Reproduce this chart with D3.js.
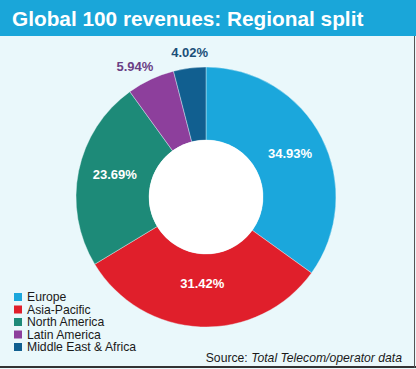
<!DOCTYPE html>
<html><head><meta charset="utf-8">
<script src="https://cdn.jsdelivr.net/npm/d3@7"></script>
<style>html,body{margin:0;padding:0;background:#fff}svg{display:block}</style>
</head><body>
<svg id="c" width="416" height="369"></svg>
<script>
const categories = ["Europe","Asia-Pacific","North America","Latin America","Middle East & Africa"];
const values = [34.93, 31.42, 23.69, 5.94, 4.02];
const labels = ["34.93%","31.42%","23.69%","5.94%","4.02%"];
const colors = ["#1ba7dc","#e01f2b","#1d8a78","#8d3f9c","#115f90"];
const labelColors = ["#ffffff","#ffffff","#ffffff","#6a3f85","#1a4f78"];
const title = "Global 100 revenues: Regional split";

const svg = d3.select("#c");
const W = 416, H = 369;
svg.append("rect").attr("width",W).attr("height",H).attr("fill","#eaf8fb");
svg.append("rect").attr("width",W).attr("height",36).attr("fill","#1aa6d9");
svg.append("text").attr("x",12).attr("y",26).attr("fill","#fff")
  .attr("font-family","Liberation Sans, Arial, sans-serif").attr("font-weight","bold")
  .attr("font-size",20.8).text(title);
// border
svg.append("line").attr("x1",0).attr("x2",W).attr("y1",367).attr("y2",367).attr("stroke","#333").attr("stroke-width",2);
svg.append("line").attr("x1",414.5).attr("x2",414.5).attr("y1",36).attr("y2",368).attr("stroke","#555").attr("stroke-width",1);

const cx = 206, cy = 197, R = 130, r0 = 57;
const pie = d3.pie().sort(null).value(d=>d)(values);
const arc = d3.arc().innerRadius(r0).outerRadius(R);
const g = svg.append("g").attr("transform",`translate(${cx},${cy})`);
g.selectAll("path").data(pie).join("path").attr("d",arc)
  .attr("fill",(d,i)=>colors[i]).attr("stroke","#eaf8fb").attr("stroke-width",0.4);
g.append("circle").attr("r",r0).attr("fill","#fff");

// label placement: inside for big slices, outside for small ones
const inArc = d3.arc().innerRadius(91).outerRadius(91);
const outArc = d3.arc().innerRadius(R+16).outerRadius(R+16);
const nudge = [[3,-2],[0,-5],[-2,-5],[-9,1],[2,0]];
g.selectAll("text.lab").data(pie).join("text").attr("class","lab")
  .attr("transform",(d,i)=>{
    let p = i<3 ? inArc.centroid(d) : outArc.centroid(d);
    p = [p[0]+nudge[i][0], p[1]+nudge[i][1]];
    return `translate(${p[0]},${p[1]})`;})
  .attr("text-anchor","middle").attr("dy","0.36em")
  .attr("font-family","Liberation Sans, Arial, sans-serif").attr("font-weight","bold")
  .attr("font-size",13).attr("fill",(d,i)=>labelColors[i])
  .text((d,i)=>labels[i]);

// legend
const lg = svg.append("g").attr("font-family","Liberation Sans, Arial, sans-serif").attr("font-size",12.2);
const ly = d3.scalePoint().domain(categories).range([297,347]);
categories.forEach((c,i)=>{
  lg.append("rect").attr("x",14).attr("y",ly(c)-4).attr("width",8).attr("height",8).attr("fill",colors[i]);
  lg.append("text").attr("x",27).attr("y",ly(c)).attr("dy","0.35em").attr("fill","#1a1a1a").text(c);
});
const src = svg.append("text").attr("x",402).attr("y",362).attr("text-anchor","end")
  .attr("font-family","Liberation Sans, Arial, sans-serif").attr("font-size",12.2).attr("fill","#1a1a1a");
src.append("tspan").text("Source: ");
src.append("tspan").attr("font-style","italic").text("Total Telecom/operator data");
</script>
</body></html>
